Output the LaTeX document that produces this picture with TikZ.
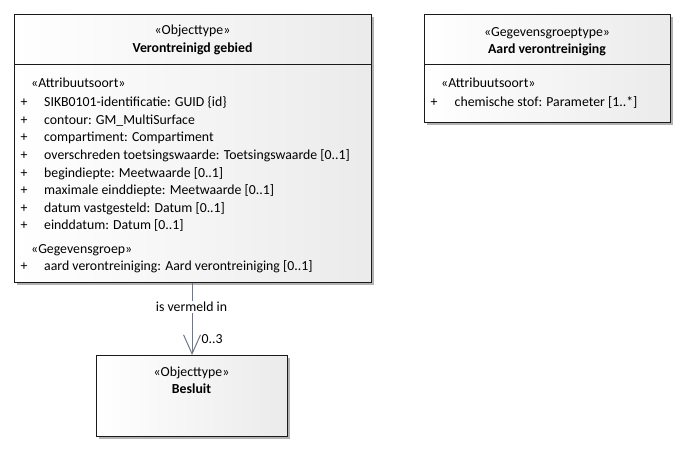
\documentclass[tikz,border=0pt]{standalone}
\usepackage{fontspec}
\setmainfont{Carlito}
\usetikzlibrary{shadows,arrows.meta}
\definecolor{connc}{HTML}{707886}
\definecolor{boxline}{HTML}{1A1A1A}
\begin{document}
\begin{tikzpicture}[x=1pt,y=-1pt,font=\fontsize{13.8}{16}\selectfont]
\useasboundingbox (0,0) rectangle (685,453);
\tikzset{
  umlbox/.style={draw=boxline, line width=1.1pt, left color=white, right color=black!8,
    drop shadow={shadow xshift=2.5pt, shadow yshift=-2.5pt, fill=black!30, opacity=1},
    anchor=north west, inner sep=0pt},
  txt/.style={anchor=base west, inner sep=0pt},
  ctr/.style={anchor=base, inner sep=0pt},
  ttl/.style={anchor=base, inner sep=0pt, font=\fontsize{13.8}{16}\selectfont\bfseries},
  sepline/.style={draw=boxline, line width=1pt},
  conn/.style={draw=connc, line width=1pt},
  plus/.style={anchor=base, inner sep=0pt}
}
% Verontreinigd gebied
\node[umlbox, minimum width=357pt, minimum height=268pt] (vg) at (14,14) {};
\draw[sepline] (vg.west |- 0,64) -- (vg.east |- 0,64);
\node[ctr] (vgst) at (192.5,34.5) {«Objecttype»};
\node[ttl] (vgnm) at (192.5,52) {Verontreinigd gebied};
\node[txt] (vga) at (31,87.3) {«Attribuutsoort»};
\foreach \t [count=\i] in {{SIKB0101-identificatie: GUID \{id\}},
  {contour: GM\_MultiSurface},
  {compartiment: Compartiment},
  {overschreden toetsingswaarde: Toetsingswaarde [0..1]},
  {begindiepte: Meetwaarde [0..1]},
  {maximale einddiepte: Meetwaarde [0..1]},
  {datum vastgesteld: Datum [0..1]},
  {einddatum: Datum [0..1]}}{
  \node[plus] (vgp\i) at (24,{106.7+(\i-1)*17.6}) {+};
  \node[txt] (vgt\i) at (44,{106.7+(\i-1)*17.6}) {\t};
}
\node[txt] (vgg) at (31,253.3) {«Gegevensgroep»};
\node[plus] (vggp) at (24,270.5) {+};
\node[txt] (vggt) at (44,270.5) {aard verontreiniging: Aard verontreiniging [0..1]};

% Aard verontreiniging
\node[umlbox, minimum width=246pt, minimum height=108pt] (av) at (424,14) {};
\draw[sepline] (av.west |- 0,64.5) -- (av.east |- 0,64.5);
\node[ctr] (avst) at (547,36) {«Gegevensgroeptype»};
\node[ttl] (avnm) at (547,53) {Aard verontreiniging};
\node[txt] (ava) at (441,87.7) {«Attribuutsoort»};
\node[plus] (avp) at (434,106) {+};
\node[txt] (avt) at (454.5,106) {chemische stof: Parameter [1..*]};

% Besluit
\node[umlbox, minimum width=191pt, minimum height=81pt] (bs) at (96,355) {};
\node[ctr] (bsst) at (191.5,376.7) {«Objecttype»};
\node[ttl] (bsnm) at (191.5,393.3) {Besluit};

% connector
\draw[conn, -{Straight Barb[length=19pt,width=17pt,line width=1pt]}] (vg.south -| bs.north) -- (bs.north);
\node[anchor=base, fill=white, inner sep=1pt] (lbl) at (191.5,311.7) {is vermeld in};
\node[txt] (mult) at (201.5,343.3) {0..3};
\end{tikzpicture}
\end{document}
